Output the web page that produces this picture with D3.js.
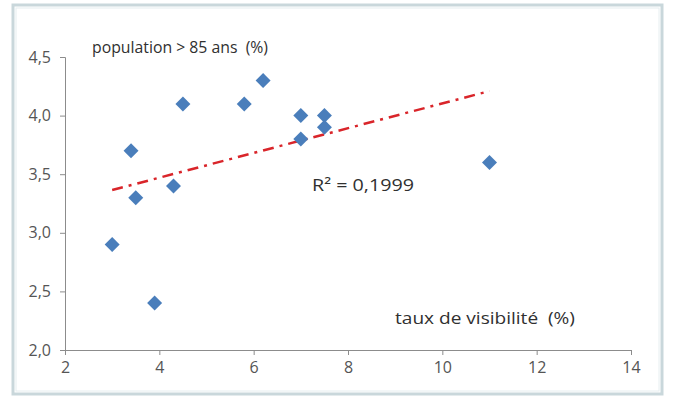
<!DOCTYPE html>
<html>
<head>
<meta charset="utf-8">
<script src="https://cdn.jsdelivr.net/npm/d3@7"></script>
<style>
  body { margin: 0; background: #fff; }
  svg { display: block; font-family: "Open Sans", "Liberation Sans", sans-serif; }
  .lbl { white-space: pre; fill: #303030; }
</style>
</head>
<body>
<svg width="685" height="405"></svg>
<script>
// values
const visibility = [3.0, 3.4, 3.5, 3.9, 4.3, 4.5, 5.8, 6.2, 7.0, 7.0, 7.5, 7.5, 11.0];
const population = [2.9, 3.7, 3.3, 2.4, 3.4, 4.1, 4.1, 4.3, 4.0, 3.8, 4.0, 3.9, 3.6];
const xTicks = [2, 4, 6, 8, 10, 12, 14];
const yTicks = [2.0, 2.5, 3.0, 3.5, 4.0, 4.5];
const r2Label = 'R² = 0,1999';

const points = visibility.map((v, i) => ({x: v, y: population[i]}));

const svg = d3.select('svg');

// outer frame (excel selection border)
svg.append('rect').attr('x', 13).attr('y', 5).attr('width', 649).attr('height', 389)
  .attr('fill', 'none').attr('stroke', '#c9d7db').attr('stroke-width', 3);
svg.append('rect').attr('x', 16).attr('y', 8).attr('width', 643).attr('height', 383)
  .attr('fill', 'none').attr('stroke', '#e6eef0').attr('stroke-width', 1);

const x = d3.scaleLinear().domain([2, 14]).range([65, 631]);
const y = d3.scaleLinear().domain([2, 4.5]).range([350, 57]);

const fmt = d => d3.format('.1f')(d).replace('.', ',');

const yAxis = svg.append('g').attr('transform', 'translate(65,0)')
  .call(d3.axisLeft(y).tickValues(yTicks).tickFormat(fmt).tickSize(5).tickPadding(9));
const xAxis = svg.append('g').attr('transform', 'translate(0,350)')
  .call(d3.axisBottom(x).tickValues(xTicks).tickSize(5).tickPadding(7));

[xAxis, yAxis].forEach(a => {
  a.select('.domain').attr('stroke', '#8c8c8c');
  a.selectAll('.tick line').attr('stroke', '#8c8c8c');
  a.selectAll('.tick text').attr('fill', '#555').style('font-size', '16px')
    .style('font-family', '"Open Sans", sans-serif');
});

// linear trend (least squares on the points)
const mx = d3.mean(points, d => d.x), my = d3.mean(points, d => d.y);
const slope = d3.sum(points, d => (d.x - mx) * (d.y - my)) / d3.sum(points, d => (d.x - mx) ** 2);
const x0 = d3.min(visibility), x1 = d3.max(visibility);
svg.append('line')
  .attr('x1', x(x0)).attr('y1', y(my + slope * (x0 - mx)))
  .attr('x2', x(x1)).attr('y2', y(my + slope * (x1 - mx)))
  .attr('stroke', '#d9252a').attr('stroke-width', 2.5)
  .attr('stroke-dasharray', '11,6,3,6');

// diamond markers
svg.selectAll('.pt').data(points).enter().append('rect')
  .attr('class', 'pt')
  .attr('x', -5.3).attr('y', -5.3).attr('width', 10.6).attr('height', 10.6)
  .attr('fill', '#4a7ebb')
  .attr('transform', d => 'translate(' + x(d.x) + ',' + y(d.y) + ') rotate(45)');

// texts
svg.append('text').attr('class', 'lbl').attr('x', 92).attr('y', 53)
  .text('population > 85 ans  (%)').style('font-size', '16px')
  .attr('textLength', 176).attr('lengthAdjust', 'spacingAndGlyphs');
svg.append('text').attr('class', 'lbl').attr('x', 395).attr('y', 324)
  .text('taux de visibilité  (%)').style('font-size', '16px')
  .attr('textLength', 180).attr('lengthAdjust', 'spacingAndGlyphs');
svg.append('text').attr('class', 'lbl').attr('x', 312).attr('y', 191)
  .text(r2Label).style('font-size', '17px')
  .attr('textLength', 102).attr('lengthAdjust', 'spacingAndGlyphs');
</script>
</body>
</html>
